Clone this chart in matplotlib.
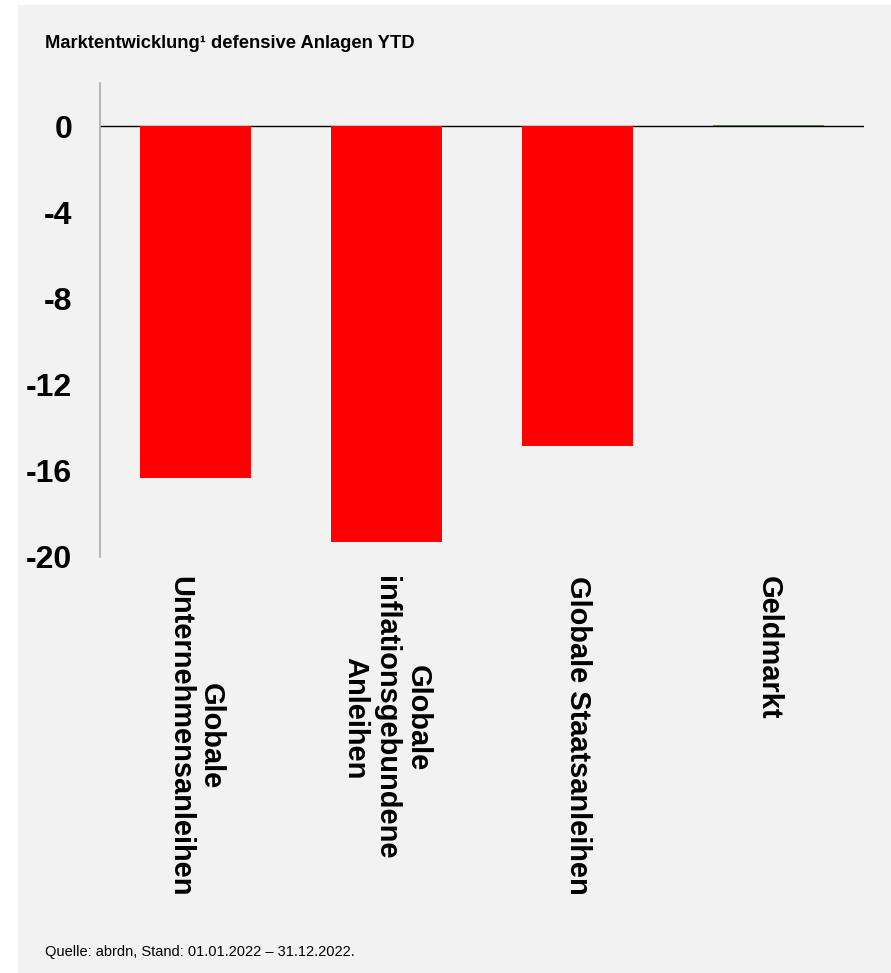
import matplotlib
matplotlib.use("Agg")
import matplotlib.pyplot as plt
from matplotlib.patches import Rectangle

plt.rcParams['font.family'] = ['Liberation Sans', 'DejaVu Sans']

# YTD-Performance defensiver Anlageklassen (in %)
categories = ["Globale\nUnternehmensanleihen",
              "Globale\ninflationsgebundene\nAnleihen",
              "Globale Staatsanleihen",
              "Geldmarkt"]
values = [-16.33, -19.31, -14.85, 0.05]
yticks = [0, -4, -8, -12, -16, -20]

bg = '#f2f2f2'
fig = plt.figure(figsize=(8.91, 9.73), dpi=100, facecolor='white')
fig.patches.append(Rectangle((18 / 891, 0), 1, 968 / 973, transform=fig.transFigure,
                             facecolor=bg, edgecolor='none', zorder=-10))

ax = fig.add_axes([100 / 891, 416.3 / 973, 764 / 891, 473.4 / 973])
ax.set_facecolor(bg)

colors = ['#ff0000' if v < 0 else '#4f7f2c' for v in values]
x = range(len(categories))
ax.bar(x, values, width=0.58, color=colors, zorder=3)
ax.axhline(0, color='black', linewidth=1.0, zorder=2)

ax.set_xlim(-0.5, 3.5)
ax.set_ylim(-20, 2)
ax.set_yticks(yticks)
ax.set_yticklabels([str(t) for t in yticks], fontsize=23, fontweight='bold')
ax.tick_params(axis='y', length=0, pad=20)
ax.tick_params(axis='x', length=0, pad=14)
ax.set_xticks(list(x))
ax.set_xticklabels(categories, rotation=-90, fontsize=20.9, fontweight='bold',
                   ha='center', va='top', multialignment='center',
                   linespacing=1.15)

for s in ['top', 'right', 'bottom']:
    ax.spines[s].set_visible(False)
ax.spines['left'].set_color('#b0b0b0')
ax.spines['left'].set_linewidth(1.3)

fig.text(45 / 891, 1 - 43 / 973, "Marktentwicklung¹ defensive Anlagen YTD",
         fontsize=13.2, fontweight='bold', ha='left', va='center')
fig.text(45 / 891, 1 - 952 / 973, "Quelle: abrdn, Stand: 01.01.2022 – 31.12.2022.",
         fontsize=10.5, ha='left', va='center')

fig.savefig('out.png', dpi=100, facecolor=fig.get_facecolor())
